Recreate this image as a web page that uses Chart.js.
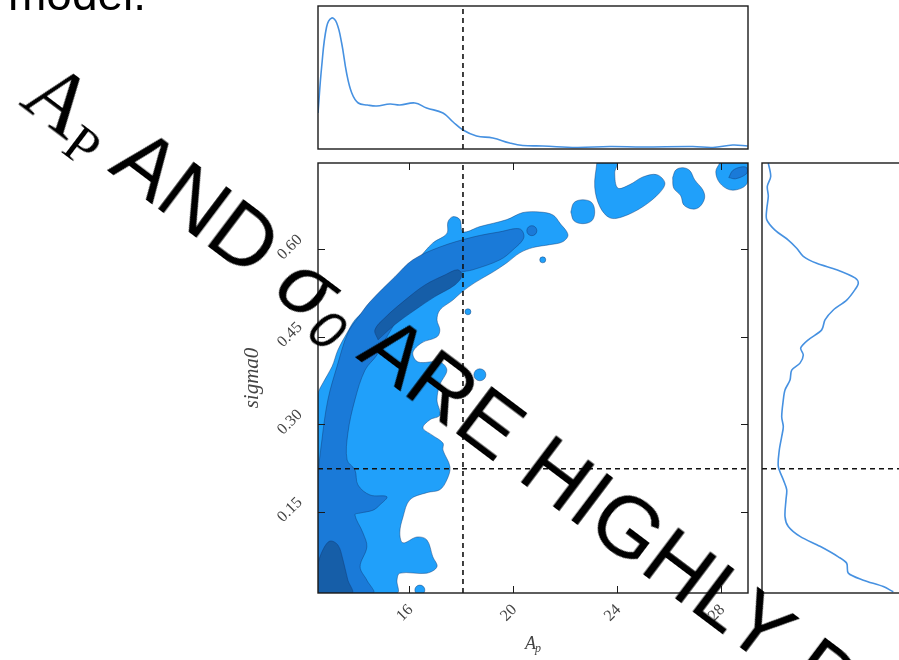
<!DOCTYPE html>
<html><head><meta charset="utf-8">
<script src="https://cdn.jsdelivr.net/npm/chart.js@4"></script>
<style>
html,body{margin:0;padding:0;width:899px;height:660px;overflow:hidden;background:#fff;position:relative}
canvas{position:absolute;left:0;top:0}
#model{position:absolute;left:8px;top:-29px;font:46px/1 'Liberation Sans',Arial,sans-serif;color:#000;white-space:nowrap}
#title{position:absolute;left:62px;top:45px;transform-origin:0 0;transform:rotate(37deg);font:86px/1 'Liberation Sans',Arial,sans-serif;white-space:nowrap;color:#000}
#title .serif{font-family:'Liberation Serif','DejaVu Serif',serif;font-style:normal}
#title sub{font-size:0.62em;line-height:0;vertical-align:-0.25em}
#title .sig{font-style:italic}
</style></head>
<body>
<canvas id="top" width="920" height="660"></canvas>
<canvas id="main" width="920" height="660"></canvas>
<canvas id="right" width="920" height="660"></canvas>
<div id="model">model.</div>
<div id="title"><span class="serif">A<sub>P</sub></span> AND <span class="sig">σ<sub>0</sub></span> ARE HIGHLY D</div>
<script>
// ---- data ----
const apRange = [12.5, 29.05];
const sigmaRange = [0.011, 0.748];
const apTicks = [16, 20, 24, 28];
const sigmaTicks = [0.15, 0.30, 0.45, 0.60];
const trueAp = 18.08;
const trueSigma = 0.224;

const apKdeX = [12.5,12.64,12.83,13.03,13.22,13.41,13.60,13.80,14.05,14.4,14.76,15.27,15.65,16.23,16.68,17.31,17.7,18.08,18.6,19.23,19.88,20.38,21.15,22.45,23.73,25.0,26.93,27.7,28.46,29.04];
const apKdeY = [36,82,122,131,126,106,76,56,46,44,43,45,44,46,41,36,27,19,13,11,6,3.5,3,1.5,2.5,2,2.5,1.5,4,3];

const sigmaKdeSigma = [0.748,0.725,0.708,0.691,0.668,0.651,0.633,0.616,0.602,0.588,0.576,0.565,0.551,0.542,0.531,0.513,0.496,0.479,0.462,0.445,0.431,0.419,0.405,0.393,0.376,0.359,0.342,0.313,0.296,0.279,0.256,0.228,0.205,0.188,0.171,0.142,0.125,0.108,0.091,0.073,0.062,0.045,0.033,0.022,0.013];
const sigmaKdeDensity = [6.3,8.7,5.3,6.3,4.7,4.7,13,26.3,34.7,41.3,54.7,74.7,93,96.3,93,84.7,71.3,63,59.7,46.3,38.7,41.3,38,29.7,28,23,21.3,19.7,21.3,19.7,17.3,16.3,21.3,24.7,24,23,26.3,38,58,76.3,84.7,86.3,101.3,121.3,131.3];
const densityRange = [0, 143];

// contour regions (A_p, sigma0)
const contourLight = [[12.50,0.011],[12.50,0.351],[12.69,0.371],[13.04,0.399],[13.27,0.428],[13.62,0.457],[13.92,0.479],[14.31,0.496],[14.88,0.525],[15.54,0.553],[16.31,0.582],[16.92,0.611],[17.46,0.627],[17.50,0.647],[17.69,0.656],[17.96,0.651],[18.08,0.630],[18.73,0.639],[19.77,0.651],[20.38,0.663],[21.04,0.664],[21.54,0.659],[21.81,0.645],[22.12,0.625],[21.92,0.613],[21.42,0.608],[20.77,0.603],[20.27,0.594],[19.77,0.577],[19.23,0.561],[18.54,0.543],[18.04,0.527],[17.69,0.513],[17.19,0.496],[17.08,0.479],[17.19,0.462],[17.08,0.450],[16.50,0.440],[16.15,0.423],[16.35,0.407],[17.19,0.407],[17.46,0.393],[17.19,0.368],[17.08,0.342],[17.19,0.316],[16.81,0.308],[16.54,0.294],[16.88,0.282],[17.31,0.268],[17.31,0.256],[17.58,0.227],[17.46,0.205],[17.19,0.188],[16.69,0.183],[16.04,0.171],[15.77,0.141],[15.65,0.114],[15.77,0.097],[16.31,0.107],[16.69,0.102],[16.92,0.073],[17.08,0.056],[16.69,0.045],[15.65,0.045],[15.54,0.033],[15.54,0.011]];
const contourLightV = [[23.23,0.748],[23.15,0.707],[23.35,0.673],[23.73,0.654],[24.23,0.656],[25.00,0.673],[25.65,0.697],[25.85,0.714],[25.54,0.728],[25.00,0.724],[24.50,0.711],[24.04,0.705],[23.92,0.731],[24.00,0.748]];
const contourLightPeanut = [[26.15,0.723],[26.27,0.736],[26.54,0.740],[26.81,0.735],[27.00,0.719],[27.31,0.702],[27.38,0.688],[27.19,0.673],[26.92,0.669],[26.58,0.676],[26.46,0.692],[26.19,0.705]];
const contourLightCorner = [[27.96,0.748],[27.81,0.733],[27.96,0.714],[28.35,0.702],[28.81,0.705],[29.04,0.716],[29.04,0.748]];
const contourLightRound = [[22.23,0.664],[22.35,0.680],[22.69,0.685],[23.04,0.680],[23.15,0.664],[23.04,0.649],[22.69,0.644],[22.35,0.649]];
const contourLightDots = [[18.27,0.493,3],[18.73,0.385,6],[21.15,0.582,3],[16.42,0.016,5]];

const contourMid = [[12.50,0.011],[12.50,0.205],[12.65,0.273],[12.88,0.342],[13.23,0.399],[13.65,0.457],[14.04,0.483],[14.50,0.510],[15.46,0.553],[16.15,0.582],[17.19,0.604],[18.46,0.621],[19.50,0.630],[20.27,0.635],[20.42,0.620],[20.00,0.599],[19.50,0.582],[18.46,0.565],[17.96,0.560],[17.19,0.543],[16.42,0.513],[15.65,0.484],[15.15,0.450],[14.77,0.419],[14.31,0.393],[13.92,0.342],[13.65,0.285],[13.62,0.239],[13.92,0.222],[14.04,0.196],[14.50,0.179],[15.15,0.176],[14.88,0.162],[14.62,0.153],[14.12,0.148],[13.92,0.145],[14.23,0.114],[14.38,0.090],[14.12,0.056],[14.38,0.033],[14.62,0.011]];
const contourMidDots = [[20.73,0.632,5]];

const contourDarkRidge = [[14.81,0.445],[14.69,0.462],[15.08,0.483],[15.85,0.513],[16.62,0.539],[17.38,0.556],[17.88,0.565],[18.04,0.555],[17.77,0.539],[17.00,0.519],[16.23,0.496],[15.46,0.471]];
const contourDarkCorner = [[12.50,0.011],[12.50,0.059],[12.69,0.085],[12.96,0.100],[13.27,0.093],[13.46,0.068],[13.65,0.033],[13.81,0.011]];
const contourDarkTop = [[28.31,0.723],[28.46,0.735],[28.77,0.741],[29.00,0.740],[29.00,0.730],[28.58,0.721]];

// ---- styles ----
const LIGHT = 'rgb(32,160,250)', MID = 'rgb(26,122,216)', DARK = 'rgb(22,94,168)';
const EDGE = 'rgba(15,55,110,0.55)';
const KDE = 'rgb(70,145,225)';
const W = 920, H = 660;

function pts(poly){ const a = poly.map(p=>({x:p[0],y:p[1]})); a.push({x:poly[0][0],y:poly[0][1]}); return a; }
function region(poly, color, order){
  return {type:'line', data:pts(poly), fill:'shape', backgroundColor:color, borderColor:EDGE, borderWidth:0.8,
          pointRadius:0, tension:0.35, order:order};
}
function dots(list, color, order){
  return {type:'bubble', data:list.map(d=>({x:d[0],y:d[1],r:d[2]})), backgroundColor:color, borderColor:EDGE, borderWidth:0.8, order:order};
}
function dashed(data){
  return {type:'line', data:data, borderColor:'#111', borderWidth:1.6, borderDash:[5,4], pointRadius:0, fill:false, order:1};
}

function framePlugin(cfg){
  return {id:'frame', afterDatasetsDraw(chart){
    const ctx = chart.ctx, a = chart.chartArea, sx = chart.scales.x, sy = chart.scales.y;
    ctx.save();
    ctx.strokeStyle = '#1a1a1a'; ctx.lineWidth = 1.4;
    ctx.strokeRect(a.left, a.top, a.right - a.left, a.bottom - a.top);
    if (cfg.ticks){
      ctx.lineWidth = 1; ctx.beginPath();
      apTicks.forEach(v=>{ const px = Math.round(sx.getPixelForValue(v))+0.5;
        ctx.moveTo(px, a.bottom); ctx.lineTo(px, a.bottom-7); ctx.moveTo(px, a.top); ctx.lineTo(px, a.top+7); });
      sigmaTicks.forEach(v=>{ const py = Math.round(sy.getPixelForValue(v))+0.5;
        ctx.moveTo(a.left, py); ctx.lineTo(a.left+7, py); ctx.moveTo(a.right, py); ctx.lineTo(a.right-7, py); });
      ctx.stroke();
      ctx.fillStyle = '#444';
      ctx.font = "16px 'Liberation Serif', 'DejaVu Serif', serif";
      ctx.textAlign = 'center'; ctx.textBaseline = 'middle';
      apTicks.forEach(v=>{ const px = sx.getPixelForValue(v);
        ctx.save(); ctx.translate(px-4, a.bottom+20); ctx.rotate(-Math.PI/4); ctx.fillText(String(v),0,0); ctx.restore(); });
      sigmaTicks.forEach(v=>{ const py = sy.getPixelForValue(v);
        ctx.save(); ctx.translate(a.left-28, py-2); ctx.rotate(-Math.PI/4); ctx.fillText(v.toFixed(2),0,0); ctx.restore(); });
      // axis titles
      ctx.save(); ctx.translate(a.left-66, (a.top+a.bottom)/2); ctx.rotate(-Math.PI/2);
      ctx.font = "italic 21px 'Liberation Serif', 'DejaVu Serif', serif"; ctx.fillText('sigma0',0,0); ctx.restore();
      const cx = (a.left+a.right)/2;
      ctx.font = "italic 18px 'Liberation Serif', 'DejaVu Serif', serif"; ctx.textAlign='right';
      ctx.fillText('A', cx+3, a.bottom+51);
      ctx.font = "italic 12px 'Liberation Serif', 'DejaVu Serif', serif"; ctx.textAlign='left';
      ctx.fillText('p', cx+2, a.bottom+56);
    }
    ctx.restore();
  }};
}

const common = {responsive:false, animation:false, events:[], plugins:{legend:{display:false}, tooltip:{enabled:false}}};

// top marginal
new Chart(document.getElementById('top'), {
  type:'line',
  data:{datasets:[
    {data:apKdeX.map((x,i)=>({x:x,y:apKdeY[i]})), borderColor:KDE, borderWidth:1.6, pointRadius:0, tension:0.4, fill:false, order:2},
    dashed([{x:trueAp,y:densityRange[0]},{x:trueAp,y:densityRange[1]}])
  ]},
  options:Object.assign({}, common, {
    layout:{padding:{left:318, top:6, right:W-748, bottom:H-149}},
    scales:{x:{type:'linear', min:apRange[0], max:apRange[1], display:false},
            y:{type:'linear', min:densityRange[0], max:densityRange[1], display:false}}
  }),
  plugins:[framePlugin({ticks:false})]
});

// main 2D panel
new Chart(document.getElementById('main'), {
  type:'line',
  data:{datasets:[
    region(contourLight, LIGHT, 20),
    region(contourLightV, LIGHT, 20),
    region(contourLightPeanut, LIGHT, 20),
    region(contourLightCorner, LIGHT, 20),
    region(contourLightRound, LIGHT, 20),
    dots(contourLightDots, LIGHT, 19),
    region(contourMid, MID, 15),
    dots(contourMidDots, MID, 14),
    region(contourDarkRidge, DARK, 10),
    region(contourDarkCorner, DARK, 10),
    region(contourDarkTop, MID, 10),
    dashed([{x:trueAp,y:sigmaRange[0]},{x:trueAp,y:sigmaRange[1]}]),
    dashed([{x:apRange[0],y:trueSigma},{x:apRange[1],y:trueSigma}])
  ]},
  options:Object.assign({}, common, {
    layout:{padding:{left:318, top:163, right:W-748, bottom:H-593}},
    scales:{x:{type:'linear', min:apRange[0], max:apRange[1], display:false},
            y:{type:'linear', min:sigmaRange[0], max:sigmaRange[1], display:false}}
  }),
  plugins:[framePlugin({ticks:true})]
});

// right marginal
new Chart(document.getElementById('right'), {
  type:'line',
  data:{datasets:[
    {data:sigmaKdeSigma.map((s,i)=>({x:sigmaKdeDensity[i],y:s})), borderColor:KDE, borderWidth:1.6, pointRadius:0, tension:0.3, fill:false, order:2},
    dashed([{x:densityRange[0],y:trueSigma},{x:densityRange[1],y:trueSigma}])
  ]},
  options:Object.assign({}, common, {
    layout:{padding:{left:762, top:163, right:W-905, bottom:H-593}},
    scales:{x:{type:'linear', min:densityRange[0], max:densityRange[1], display:false},
            y:{type:'linear', min:sigmaRange[0], max:sigmaRange[1], display:false}}
  }),
  plugins:[framePlugin({ticks:false})]
});
</script>
</body></html>
